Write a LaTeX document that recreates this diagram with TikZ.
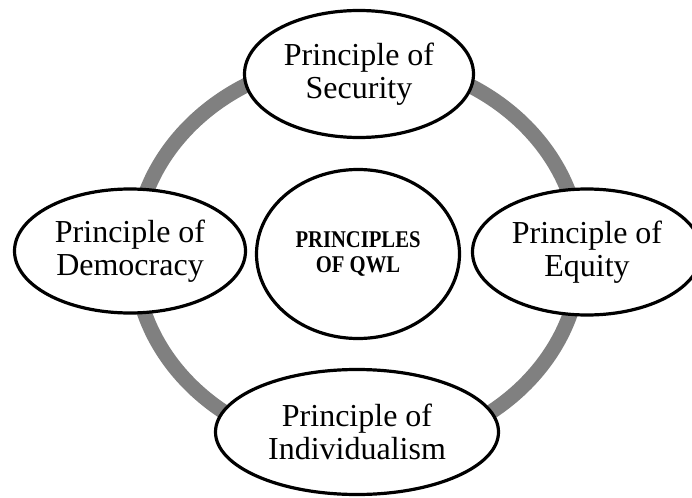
\documentclass[tikz,border=0pt]{standalone}
\usepackage{fontspec}
\setmainfont{Liberation Serif}
\newfontfamily\hubfont[FakeStretch=0.86]{Liberation Serif}
\usetikzlibrary{shapes.geometric}
\definecolor{ringgray}{RGB}{128,128,128}
\begin{document}
\begin{tikzpicture}[x=1pt,y=-1pt,
  ring/.style={draw=ringgray, line width=15pt},
  principle/.style={ellipse, draw=black, line width=3.2pt, fill=white,
    inner sep=0pt, align=center, font=\fontsize{32}{33}\selectfont},
  hub/.style={ellipse, draw=black, line width=3.2pt, fill=white,
    inner sep=0pt, align=center, font=\hubfont\bfseries\fontsize{24}{25}\selectfont}]
\useasboundingbox (0,0) rectangle (692,497);
\clip (0,0) rectangle (692,497);

% grey ring joining the four principles
\draw[ring] (357.5,255) ellipse [x radius=223, y radius=196];

% the four principles around the ring
\node[principle, minimum width=229pt, minimum height=127pt] (security) at (359,74) {Principle of\\Security};
\node[principle, minimum width=231pt, minimum height=124pt] (democracy) at (130,251) {Principle of\\Democracy};
\node[principle, minimum width=229pt, minimum height=126pt] (equity) at (587,252) {Principle of\\Equity};
\node[principle, minimum width=283pt, minimum height=125pt] (individualism) at (357,432) {Principle of\\Individualism};

% central hub
\node[hub, minimum width=203pt, minimum height=169pt] (qwl) at (358,254) {PRINCIPLES\\OF QWL};
\end{tikzpicture}
\end{document}
